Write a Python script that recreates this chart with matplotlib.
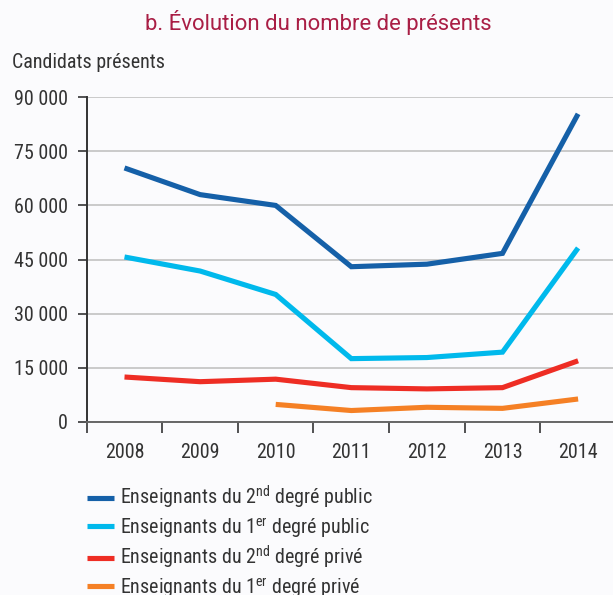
import numpy as np
import matplotlib
matplotlib.use("Agg")
import matplotlib.pyplot as plt
from matplotlib import font_manager as fm

# ---- data ----
years = ["2008", "2009", "2010", "2011", "2012", "2013", "2014"]
second_public = [70400, 63000, 60000, 43000, 43700, 46700, 85400]
first_public = [45700, 41800, 35300, 17500, 17800, 19300, 48200]
second_private = [12400, 11100, 11800, 9450, 9100, 9450, 16900]
first_private = [np.nan, np.nan, 4800, 3100, 4000, 3700, 6300]
yticks = [0, 15000, 30000, 45000, 60000, 75000, 90000]

labels = [r"Enseignants du 2$^{\mathrm{nd}}$ degré public",
          r"Enseignants du 1$^{\mathrm{er}}$ degré public",
          r"Enseignants du 2$^{\mathrm{nd}}$ degré privé",
          r"Enseignants du 1$^{\mathrm{er}}$ degré privé"]
colors = ["#1560A8", "#00B9EC", "#EE2D24", "#F58025"]

names = {f.name for f in fm.fontManager.ttflist}
narrow = "DejaVu Sans"
for cand in ["Roboto Condensed", "Barlow Semi Condensed", "IBM Plex Sans Condensed", "Archivo Narrow"]:
    if cand in names:
        narrow = cand
        break
title_font = "Roboto" if "Roboto" in names else "DejaVu Sans"

plt.rcParams["font.family"] = [narrow, "DejaVu Sans"]
plt.rcParams["mathtext.fontset"] = "custom"
plt.rcParams["mathtext.rm"] = narrow
plt.rcParams["mathtext.it"] = narrow
plt.rcParams["mathtext.bf"] = narrow

bg = "#FBFBFD"
txtc = "#333333"
fs = 14.4
W, H = 613, 595
fig = plt.figure(figsize=(W / 100, H / 100), dpi=100, facecolor=bg)

left_px, right_px, top_px, bot_px = 86.7, 613, 97.3, 421.7
ax = fig.add_axes([left_px / W, 1 - bot_px / H, (right_px - left_px) / W, (bot_px - top_px) / H])
ax.set_facecolor(bg)

x = np.arange(len(years))
for vals, c, lab in zip([second_public, first_public, second_private, first_private], colors, labels):
    ax.plot(x, vals, color=c, lw=3.7, solid_capstyle="butt", solid_joinstyle="miter", label=lab, zorder=3)

step = 75.6
ax.set_xlim(-0.5, -0.5 + (right_px - left_px) / step)
ax.set_ylim(0, 90000)

ax.set_yticks(yticks)
ax.set_yticklabels([f"{v:,}".replace(",", " ") for v in yticks])
ax.yaxis.grid(True, color="#BDBDBD", lw=1.1)
ax.set_axisbelow(True)

ax.set_xticks(np.arange(-0.5, 6.0, 1.0))
ax.set_xticklabels([])
ax.set_xticks(x, minor=True)
ax.set_xticklabels(years, minor=True)
ax.tick_params(axis="x", which="major", length=8, width=1.3, color="#444444", direction="out")
ax.tick_params(axis="x", which="minor", length=0, pad=15.5, labelsize=fs, labelcolor=txtc)
ax.tick_params(axis="y", length=6.5, width=1.3, color="#444444", pad=7, labelsize=fs, labelcolor=txtc)

for s in ["top", "right"]:
    ax.spines[s].set_visible(False)
ax.spines["left"].set_color("#333333")
ax.spines["left"].set_linewidth(1.4)
ax.spines["bottom"].set_color("#666666")
ax.spines["bottom"].set_linewidth(1.4)

fig.text(318.4 / W, 1 - 30 / H, "b. Évolution du nombre de présents", ha="center", va="baseline",
         fontsize=15.9, color="#A91E45", family=[title_font, "DejaVu Sans"])
fig.text(12.3 / W, 1 - 67.7 / H, "Candidats présents", ha="left", va="baseline",
         fontsize=fs, color=txtc)

leg = fig.legend(loc="upper left", bbox_to_anchor=(86.7 / W, 1 - 484 / H), frameon=False,
                 fontsize=fs, handlelength=1.35, handletextpad=0.33, labelspacing=0.22,
                 borderpad=0, borderaxespad=0)
for t in leg.get_texts():
    t.set_color(txtc)
for l in leg.get_lines():
    l.set_linewidth(3.7)

fig.savefig("out.png", dpi=100, facecolor=bg)
